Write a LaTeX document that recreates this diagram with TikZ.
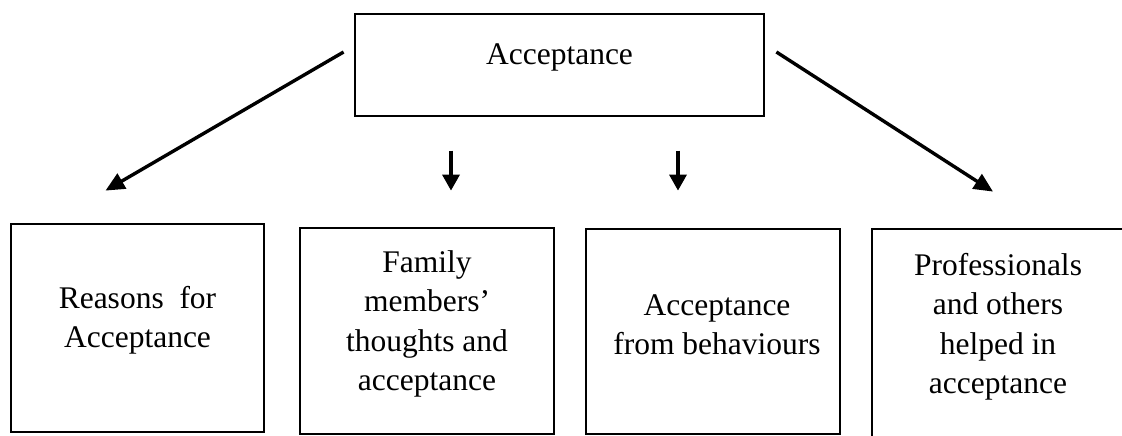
\documentclass[tikz,border=0pt]{standalone}
\usepackage{fontspec}
\setmainfont{Liberation Serif}
\usetikzlibrary{arrows.meta,calc}

\tikzset{
  box/.style={draw=black, line width=2.8pt, fill=none, inner sep=0pt},
  boxtext/.style={align=center, inner sep=0pt,
    font=\fontsize{31.5}{39.5}\selectfont},
  link/.style={line width=3.4pt, -{Triangle[length=19pt,width=17pt]}},
  drop/.style={line width=3.4pt, -{Triangle[length=16pt,width=17pt]}}
}

\begin{document}
\begin{tikzpicture}[x=1pt, y=-1pt]
  \useasboundingbox (0,0) rectangle (1122,436);
  \clip (0,0) rectangle (1122,436);

  % root box
  \node[box, minimum width=409pt, minimum height=102pt] (top) at (559.5,65) {};
  \node[boxtext, yshift=7.5pt] (toptext) at (top.center) {Acceptance};

  % four category boxes
  \node[box, minimum width=253pt, minimum height=208pt] (b1) at (137.5,328) {};
  \node[box, minimum width=254pt, minimum height=206pt] (b2) at (427,331) {};
  \node[box, minimum width=254pt, minimum height=205pt] (b3) at (713,331.5) {};
  \node[box, minimum width=252pt, minimum height=210pt] (b4) at (998,334) {};

  \node[boxtext, yshift=7.5pt] (t1) at (b1.center) {Reasons\ \ for\\Acceptance};
  \node[boxtext, yshift=7pt] (t2) at (b2.center) {Family\\members’\\thoughts and\\acceptance};
  \node[boxtext, yshift=6.5pt] (t3) at ($(b3.center)+(4,0)$) {Acceptance\\from behaviours};
  \node[boxtext, yshift=7pt] (t4) at (b4.center) {Professionals\\and others\\helped in\\acceptance};

  % arrow end points
  \coordinate (ls) at ($(top.west)+(-10,-13)$);
  \coordinate (le) at ($(b1.north)+(-32,-32)$);
  \coordinate (rs) at ($(top.east)+(11,-13)$);
  \coordinate (re) at ($(b4.north)+(-5,-36)$);
  \coordinate (d1s) at ($(b2.north)+(24,-76)$);
  \coordinate (d1e) at ($(b2.north)+(24,-36)$);
  \coordinate (d2s) at ($(b3.north)+(-35,-77)$);
  \coordinate (d2e) at ($(b3.north)+(-35,-37)$);

  \draw[link] (ls) -- (le);
  \draw[link] (rs) -- (re);
  \draw[drop] (d1s) -- (d1e);
  \draw[drop] (d2s) -- (d2e);
\end{tikzpicture}
\end{document}
